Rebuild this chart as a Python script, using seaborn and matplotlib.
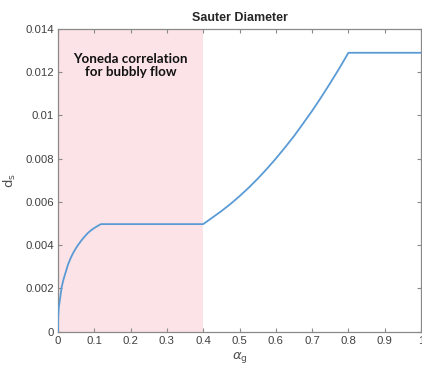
import matplotlib
matplotlib.use("Agg")
import matplotlib.pyplot as plt
import seaborn as sns
import pandas as pd

# Sauter mean diameter d_s versus gas void fraction alpha_g
alpha_g = [0.0, 0.0005, 0.002, 0.0055, 0.010, 0.015, 0.020, 0.028, 0.035, 0.042,
           0.050, 0.056, 0.063, 0.070, 0.077, 0.083, 0.090, 0.100, 0.109, 0.118,
           0.20, 0.30, 0.40,
           0.425, 0.45, 0.475, 0.50, 0.525, 0.55, 0.575, 0.60,
           0.625, 0.65, 0.675, 0.70, 0.725, 0.75, 0.775, 0.80,
           0.90, 1.00]
d_s = [0.0, 0.0007, 0.0011, 0.00150, 0.00205, 0.00240, 0.00268, 0.00312, 0.00340, 0.00364,
       0.00387, 0.00402, 0.00418, 0.00433, 0.00446, 0.00457, 0.00467, 0.00479, 0.00488, 0.00497,
       0.00497, 0.00497, 0.00497,
       0.00527, 0.00557, 0.00590, 0.00626, 0.00665, 0.00707, 0.00752, 0.00800,
       0.00851, 0.00904, 0.00962, 0.01021, 0.01084, 0.01150, 0.01218, 0.01290,
       0.01290, 0.01290]

bubbly_range = (0.0, 0.4)
region_label = "Yoneda correlation\nfor bubbly flow"
x_ticks = [0, 0.1, 0.2, 0.3, 0.4, 0.5, 0.6, 0.7, 0.8, 0.9, 1]
x_ticklabels = ["0", "0.1", "0.2", "0.3", "0.4", "0.5", "0.6", "0.7", "0.8", "0.9", "1"]
y_ticks = [0, 0.002, 0.004, 0.006, 0.008, 0.010, 0.012, 0.014]
y_ticklabels = ["0", "0.002", "0.004", "0.006", "0.008", "0.01", "0.012", "0.014"]

df = pd.DataFrame({"alpha_g": alpha_g, "d_s": d_s})

sns.set_style("white")
plt.rcParams["font.family"] = ["Liberation Sans", "DejaVu Sans"]

fig = plt.figure(figsize=(4.22, 3.73), dpi=100)
ax = fig.add_axes([58 / 422, 1 - 331.5 / 373, 363 / 422, 302.5 / 373])

ax.axvspan(*bubbly_range, color="#fbe3e7", zorder=0, lw=0)
sns.lineplot(data=df, x="alpha_g", y="d_s", ax=ax, color="#5b9bd5", lw=1.3, zorder=3)

ax.set_xlim(0, 1)
ax.set_ylim(0, 0.014)
ax.set_xticks(x_ticks)
ax.set_xticklabels(x_ticklabels)
ax.set_yticks(y_ticks)
ax.set_yticklabels(y_ticklabels)

grey = "#8a8a8a"
for s in ax.spines.values():
    s.set_color(grey)
    s.set_linewidth(0.9)
ax.tick_params(direction="in", length=3, width=0.8, color=grey,
               labelsize=8.2, labelcolor="#404040", top=True, right=True,
               bottom=True, left=True, pad=3)

ax.set_title("Sauter Diameter", fontsize=9, fontweight="bold", color="#262626", pad=6)
ax.set_xlabel(r"$\alpha_\mathrm{g}$", fontsize=9.5, color="#505050", labelpad=3)
ax.set_ylabel(r"$\mathrm{d}_\mathrm{s}$", fontsize=9.5, color="#505050", labelpad=5)

ax.text(0.2, 0.01231, region_label, ha="center", va="center", fontsize=9.6,
        fontweight="bold", family=["Lato", "DejaVu Sans"], color="#111111",
        linespacing=1.1)

fig.savefig("out.png", dpi=100)
